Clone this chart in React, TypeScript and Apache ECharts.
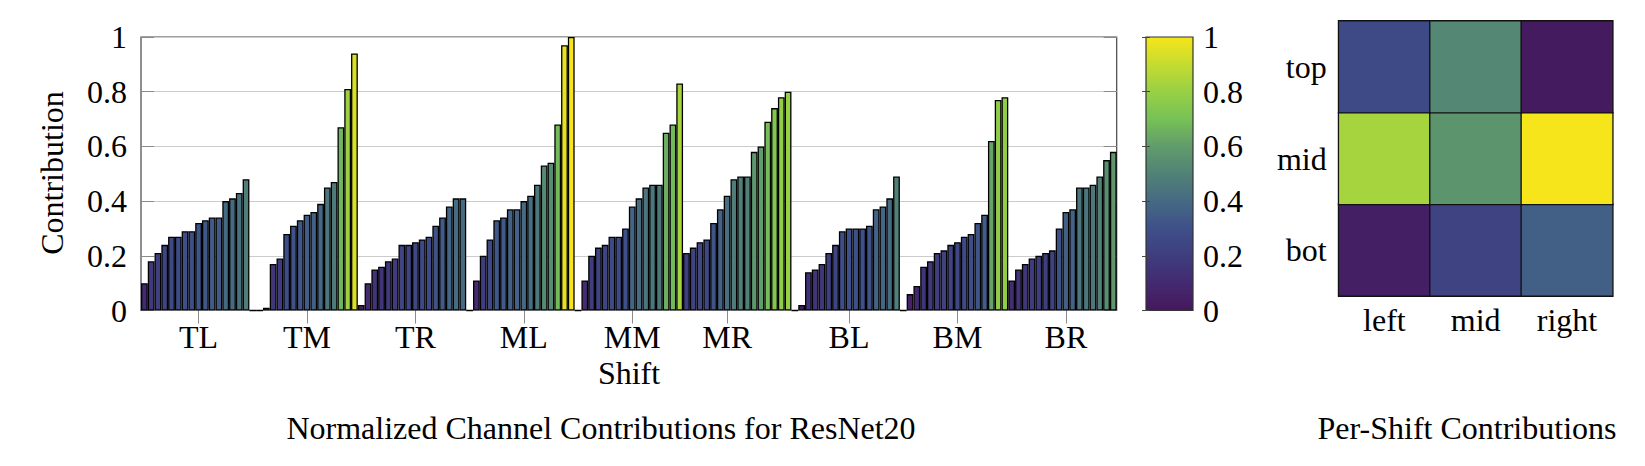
import React, { useEffect, useRef } from "react";
import * as echarts from "echarts";

const GROUPS = ["TL", "TM", "TR", "ML", "MM", "MR", "BL", "BM", "BR"];
const TL = [0.10, 0.18, 0.21, 0.24, 0.27, 0.27, 0.29, 0.29, 0.32, 0.33, 0.34, 0.34, 0.40, 0.41, 0.43, 0.48];
const TM = [0, 0, 0.01, 0.17, 0.19, 0.28, 0.31, 0.33, 0.35, 0.36, 0.39, 0.45, 0.47, 0.67, 0.81, 0.94];
const TR = [0.02, 0.10, 0.15, 0.16, 0.18, 0.19, 0.24, 0.24, 0.25, 0.26, 0.27, 0.31, 0.34, 0.38, 0.41, 0.41];
const ML = [0, 0.11, 0.20, 0.26, 0.33, 0.34, 0.37, 0.37, 0.40, 0.42, 0.46, 0.53, 0.54, 0.68, 0.97, 1.0];
const MM = [0, 0.11, 0.20, 0.23, 0.24, 0.27, 0.27, 0.30, 0.38, 0.41, 0.45, 0.46, 0.46, 0.65, 0.68, 0.83];
const MR = [0.21, 0.23, 0.25, 0.26, 0.32, 0.37, 0.42, 0.48, 0.49, 0.49, 0.58, 0.60, 0.69, 0.74, 0.78, 0.80];
const BL = [0, 0.02, 0.14, 0.15, 0.17, 0.21, 0.24, 0.29, 0.30, 0.30, 0.30, 0.31, 0.37, 0.38, 0.41, 0.49];
const BM = [0, 0.06, 0.09, 0.16, 0.18, 0.21, 0.22, 0.24, 0.25, 0.27, 0.28, 0.32, 0.35, 0.62, 0.77, 0.78];
const BR = [0.11, 0.15, 0.17, 0.19, 0.20, 0.21, 0.22, 0.30, 0.36, 0.37, 0.45, 0.45, 0.46, 0.49, 0.55, 0.58];
const GROUP_VALUES = [TL, TM, TR, ML, MM, MR, BL, BM, BR];

// bar indices at which the x tick labels sit
const TICK_INDEX = [8, 24, 40, 56, 72, 86, 104, 120, 136];

const HEAT_COLS = ["left", "mid", "right"];
const HEAT_ROWS = ["bot", "mid", "top"];
const HEAT_TOP = [0.27, 0.52, 0.02];
const HEAT_MID = [0.83, 0.57, 1.0];
const HEAT_BOT = [0.04, 0.23, 0.36];

const VIRIDIS = [
  "#46175c", "#432a70", "#3f3d7f", "#3e5089", "#456a84", "#518276",
  "#619c6b", "#77c156", "#98d044", "#c5dc30", "#f6e51a",
];

const FONT = '"Liberation Serif", "Times New Roman", serif';
const FS = 32;

export default function App() {
  const ref = useRef<HTMLDivElement>(null);
  useEffect(() => {
    if (!ref.current) return;
    const chart = echarts.init(ref.current, undefined, { renderer: "svg" });

    const cats: string[] = [];
    GROUPS.forEach((g) => {
      for (let k = 0; k < 16; k++) cats.push(g + "-" + (k + 1));
    });
    const barData: number[][] = [];
    GROUP_VALUES.forEach((arr, gi) => {
      arr.forEach((v, k) => barData.push([gi * 16 + k, v]));
    });
    const heatData: number[][] = [];
    [HEAT_BOT, HEAT_MID, HEAT_TOP].forEach((row, r) => {
      row.forEach((v, c) => heatData.push([c, r, v]));
    });
    const isTick = (i: number) => TICK_INDEX.indexOf(i) >= 0;
    const tickStyle = {
      show: true,
      inside: true,
      alignWithLabel: true,
      interval: isTick,
      length: 13,
      lineStyle: { color: "#8a8a8a", width: 1 },
    };
    const labelBase = { fontFamily: FONT, fontSize: FS, color: "#000" };

    const gradStops = VIRIDIS.map((c, k) => ({ offset: k / 10, color: VIRIDIS[10 - k] }));

    chart.setOption({
      animation: false,
      backgroundColor: "#ffffff",
      grid: [
        { left: 141, top: 37, width: 975.7, height: 273.5, show: true, borderColor: "#444", borderWidth: 1.2, backgroundColor: "transparent" },
        { left: 1338.7, top: 21, width: 274, height: 275 },
        { left: 1146, top: 37, width: 47, height: 273.5 },
      ],
      xAxis: [
        {
          type: "category",
          gridIndex: 0,
          data: cats,
          axisLine: { show: false },
          axisTick: tickStyle,
          axisLabel: {
            ...labelBase,
            interval: isTick,
            margin: 10,
            formatter: (v: string) => v.split("-")[0],
          },
          splitLine: { show: false },
        },
        {
          type: "category",
          gridIndex: 0,
          position: "top",
          data: cats,
          axisLine: { show: false },
          axisTick: tickStyle,
          axisLabel: { show: false },
          splitLine: { show: false },
        },
        {
          type: "category",
          gridIndex: 1,
          data: HEAT_COLS,
          axisLine: { show: false },
          axisTick: { show: false },
          axisLabel: { ...labelBase, margin: 8 },
        },
        { type: "value", gridIndex: 2, show: false, min: 0, max: 1 },
      ],
      yAxis: [
        {
          type: "value",
          gridIndex: 0,
          min: 0,
          max: 1,
          interval: 0.2,
          axisLine: { show: false },
          axisTick: { show: true, inside: true, length: 13, lineStyle: { color: "#8a8a8a" } },
          splitLine: { show: true, lineStyle: { color: "#cbcbcb", width: 1 } },
          axisLabel: { ...labelBase, margin: 14 },
        },
        {
          type: "value",
          gridIndex: 0,
          position: "right",
          min: 0,
          max: 1,
          interval: 0.2,
          axisLine: { show: false },
          axisTick: { show: true, inside: true, length: 13, lineStyle: { color: "#8a8a8a" } },
          splitLine: { show: false },
          axisLabel: { show: false },
        },
        {
          type: "category",
          gridIndex: 1,
          data: HEAT_ROWS,
          axisLine: { show: false },
          axisTick: { show: false },
          axisLabel: { ...labelBase, margin: 12, padding: [0, 0, 6, 0] },
        },
        {
          type: "value",
          gridIndex: 2,
          position: "right",
          min: 0,
          max: 1,
          interval: 0.2,
          z: 10,
          axisLine: { show: false },
          axisTick: { show: true, inside: true, length: 4, lineStyle: { color: "#444" } },
          splitLine: { show: false },
          axisLabel: { ...labelBase, margin: 10 },
        },
        {
          type: "value",
          gridIndex: 2,
          position: "left",
          min: 0,
          max: 1,
          interval: 0.2,
          z: 10,
          axisLine: { show: false },
          axisTick: { show: true, inside: true, length: 4, lineStyle: { color: "#444" } },
          splitLine: { show: false },
          axisLabel: { show: false },
        },
      ],
      visualMap: [
        { type: "continuous", show: false, seriesIndex: 0, dimension: 1, min: 0, max: 1, inRange: { color: VIRIDIS } },
        { type: "continuous", show: false, seriesIndex: 1, dimension: 2, min: 0, max: 1, inRange: { color: VIRIDIS } },
      ],
      series: [
        {
          type: "bar",
          xAxisIndex: 0,
          yAxisIndex: 0,
          data: barData,
          barCategoryGap: "0%",
          barGap: "0%",
          itemStyle: { borderColor: "#000", borderWidth: 1.3 },
        },
        {
          type: "heatmap",
          xAxisIndex: 2,
          yAxisIndex: 2,
          data: heatData,
          itemStyle: { borderColor: "#111", borderWidth: 1.3 },
        },
      ],
      graphic: [
        {
          type: "rect",
          z: 1,
          shape: { x: 1146, y: 37, width: 47, height: 273.5 },
          style: {
            fill: new echarts.graphic.LinearGradient(0, 0, 0, 1, gradStops),
            stroke: "#333",
            lineWidth: 1.2,
          },
        },
        {
          type: "text",
          x: 52,
          y: 173,
          rotation: Math.PI / 2,
          style: { text: "Contribution", font: `${FS}px ${FONT}`, fill: "#000", align: "center", verticalAlign: "middle", textAlign: "center", textVerticalAlign: "middle" },
        },
        {
          type: "text",
          x: 629,
          y: 373,
          style: { text: "Shift", font: `${FS}px ${FONT}`, fill: "#000", align: "center", verticalAlign: "middle", textAlign: "center", textVerticalAlign: "middle" },
        },
        {
          type: "text",
          x: 601,
          y: 428,
          style: { text: "Normalized Channel Contributions for ResNet20", font: `${FS}px ${FONT}`, fill: "#000", align: "center", verticalAlign: "middle", textAlign: "center", textVerticalAlign: "middle" },
        },
        {
          type: "text",
          x: 1467,
          y: 428,
          style: { text: "Per-Shift Contributions", font: `${FS}px ${FONT}`, fill: "#000", align: "center", verticalAlign: "middle", textAlign: "center", textVerticalAlign: "middle" },
        },
      ],
    });
    return () => chart.dispose();
  }, []);
  return (
    <div
      ref={ref}
      style={{ position: "fixed", left: 0, top: 0, width: 1645, height: 466, background: "#fff" }}
    />
  );
}
